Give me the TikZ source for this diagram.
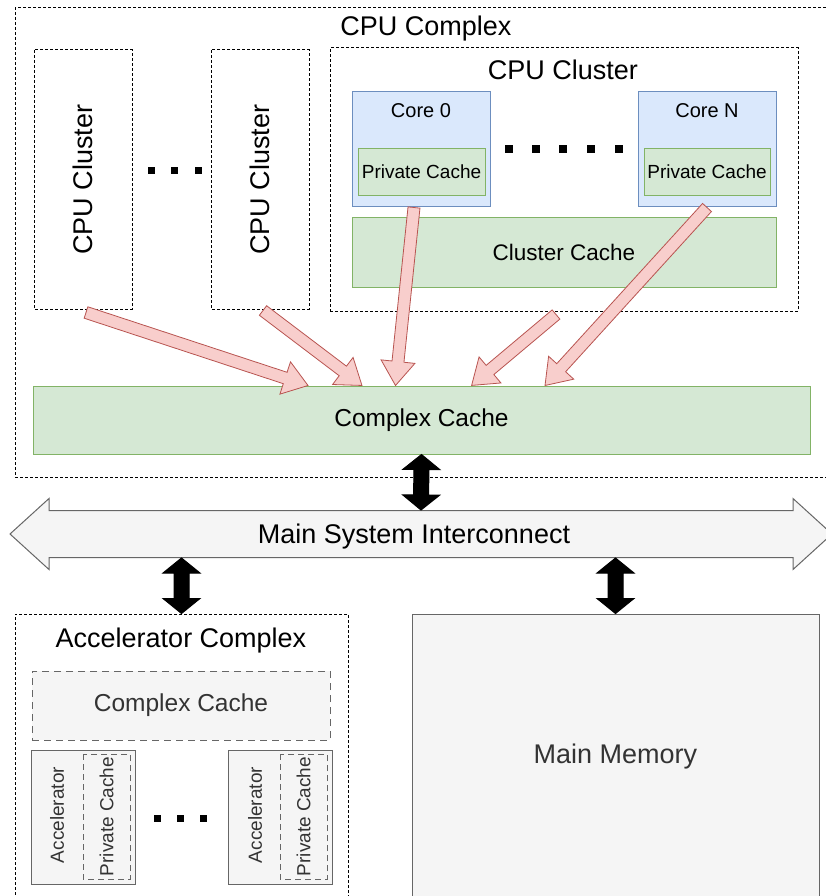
\documentclass[tikz,border=0pt]{standalone}
\usepackage{fontspec}
\setmainfont{Liberation Sans}
\usepackage{xcolor}
\usepackage{tikz}
\usetikzlibrary{calc}

\definecolor{corefill}{HTML}{DAE8FC}
\definecolor{coreline}{HTML}{6C8EBF}
\definecolor{cachefill}{HTML}{D5E8D4}
\definecolor{cacheline}{HTML}{82B366}
\definecolor{linkfill}{HTML}{F8CECC}
\definecolor{linkline}{HTML}{B85450}
\definecolor{greyfill}{HTML}{F5F5F5}
\definecolor{greyline}{HTML}{666666}
\definecolor{greytext}{HTML}{333333}

% fat block arrow: style, half body, half head, head length, from, to
\newcommand\fatarrow[6]{%
  \filldraw[#1] let \p1=(#5), \p2=(#6),
    \n1={atan2(\y2-\y1,\x2-\x1)}, \n2={veclen(\x2-\x1,\y2-\y1)} in
    [shift={(\p1)}, rotate=\n1]
    (0pt,#2pt) -- (\n2-#4pt,#2pt) -- (\n2-#4pt,#3pt) -- (\n2+0pt,0pt)
    -- (\n2-#4pt,-#3pt) -- (\n2-#4pt,-#2pt) -- (0pt,-#2pt) -- cycle;}
\newcommand\fatdouble[6]{%
  \filldraw[#1] let \p1=(#5), \p2=(#6),
    \n1={atan2(\y2-\y1,\x2-\x1)}, \n2={veclen(\x2-\x1,\y2-\y1)} in
    [shift={(\p1)}, rotate=\n1]
    (0pt,0pt) -- (#4pt,#3pt) -- (#4pt,#2pt) -- (\n2-#4pt,#2pt) -- (\n2-#4pt,#3pt)
    -- (\n2+0pt,0pt) -- (\n2-#4pt,-#3pt) -- (\n2-#4pt,-#2pt) -- (#4pt,-#2pt)
    -- (#4pt,-#3pt) -- cycle;}

\tikzset{
  sz/.style 2 args={minimum width=#1pt, minimum height=#2pt},
  txtXL/.style={font=\fontsize{27}{32}\selectfont},
  txtL/.style={font=\fontsize{24.5}{29}\selectfont},
  txtM/.style={font=\fontsize{22.5}{27}\selectfont},
  txtS/.style={font=\fontsize{20}{24}\selectfont},
  txtXS/.style={font=\fontsize{19}{23}\selectfont},
  dotbox/.style={draw, dash pattern=on 3pt off 2pt},
  corebox/.style={draw=coreline, fill=corefill},
  cachebox/.style={draw=cacheline, fill=cachefill},
  greybox/.style={draw=greyline, fill=greyfill, text=greytext},
  greydash/.style={greybox, dash pattern=on 7pt off 5pt},
  link/.style={draw=linkline, fill=linkfill, line width=0.8pt},
  port/.style={fill=black},
  busbar/.style={draw=greyline, fill=greyfill},
}

\begin{document}
\begin{tikzpicture}[x=1pt, y=-1pt, line width=1pt, every node/.style={inner sep=0pt}]
  \clip (0,0) rectangle (826,896);
  \fill[white] (0,0) rectangle (826,896);

  % CPU complex
  \node[dotbox, sz={821}{469}] (cpucx) at (425.5,242.5) {};
  \node[txtXL] (cpucx-lbl) at (426,29) {CPU Complex};
  \node[dotbox, txtXL, rotate=90, sz={259}{98}] (clA) at (83,179.5) {CPU Cluster};
  \node[dotbox, txtXL, rotate=90, sz={259}{98}] (clB) at (260,179.5) {CPU Cluster};
  \foreach \x in {151,174,198}
    \fill (\x-3.5,167.5) rectangle +(7,7);

  \node[dotbox, sz={468}{263}] (clC) at (564,179.5) {};
  \node[txtXL] (clC-lbl) at (563,70) {CPU Cluster};
  \node[corebox, sz={138}{114}] (core0) at (421,149) {};
  \node[txtS] (core0-lbl) at (421,111) {Core 0};
  \node[cachebox, txtXS, sz={127}{46}] (pc0) at (421.5,172) {Private Cache};
  \node[corebox, sz={138}{114}] (coreN) at (707,149) {};
  \node[txtS] (coreN-lbl) at (707,111) {Core N};
  \node[cachebox, txtXS, sz={126}{46}] (pcN) at (707,172) {Private Cache};
  \foreach \x in {508.5,536,563,591,618.5}
    \fill (\x-4,145) rectangle +(8,8);
  \node[cachebox, txtM, sz={424}{70}] (clcache) at (564,252) {Cluster Cache};

  \node[cachebox, txtL, sz={777}{68}] (cxcache) at (421.5,420) {Complex Cache};

  % links into the complex cache
  \fatarrow{link}{6}{17}{24}{[shift={(3,3)}]clA.west}{[xshift=-113.5pt]cxcache.north}
  \fatarrow{link}{6}{17}{24}{[shift={(3,1)}]clB.west}{[xshift=-59.5pt]cxcache.north}
  \fatarrow{link}{6}{17}{24}{[shift={(-7,1)}]core0.south}{[xshift=-26pt]cxcache.north}
  \fatarrow{link}{6}{17}{24}{[shift={(-8,3)}]clC.south}{[xshift=50pt]cxcache.north}
  \fatarrow{link}{6}{17}{24}{[shift={(0,1)}]coreN.south}{[xshift=123.5pt]cxcache.north}

  % interconnect
  \coordinate (busL) at (10,534);
  \coordinate (busR) at (832,534);
  \fatdouble{busbar}{23.5}{35.5}{39}{busL}{busR}
  \node[sz={600}{47}] (bus) at (421,534) {};
  \node[txtXL] (bus-lbl) at (414,537) {Main System Interconnect};

  % accelerator complex
  \node[dotbox, sz={333}{291}] (acx) at (181.5,759.5) {};
  \node[txtXL] (acx-lbl) at (181,641) {Accelerator Complex};
  \node[greydash, txtL, sz={298}{69}] (acache) at (181,705.5) {Complex Cache};
  \node[greybox, sz={104}{134}] (acc1) at (83,817) {};
  \node[txtXS, text=greytext, rotate=90] (acc1-lbl) at (57,815) {Accelerator};
  \node[greybox, txtXS, rotate=90, sz={125}{47}, dash pattern=on 6pt off 4pt] (apc1) at (106.5,816.5) {Private Cache};
  \node[greybox, sz={104}{134}] (acc2) at (280,817) {};
  \node[txtXS, text=greytext, rotate=90] (acc2-lbl) at (255,815) {Accelerator};
  \node[greybox, txtXS, rotate=90, sz={125}{47}, dash pattern=on 6pt off 4pt] (apc2) at (303.5,816.5) {Private Cache};
  \foreach \x in {157,180,203}
    \fill (\x-3.5,814.5) rectangle +(7,7);

  % main memory
  \node[greybox, txtXL, sz={407}{286}] (mem) at (615.5,757) {Main Memory};

  % ports onto the interconnect
  \fatdouble{port}{7.5}{18.5}{15}{cxcache.south}{bus.north}
  \fatdouble{port}{7.5}{18.5}{15}{bus.south -| acx.north}{acx.north}
  \fatdouble{port}{7.5}{18.5}{15}{bus.south -| mem.north}{mem.north}
\end{tikzpicture}
\end{document}
